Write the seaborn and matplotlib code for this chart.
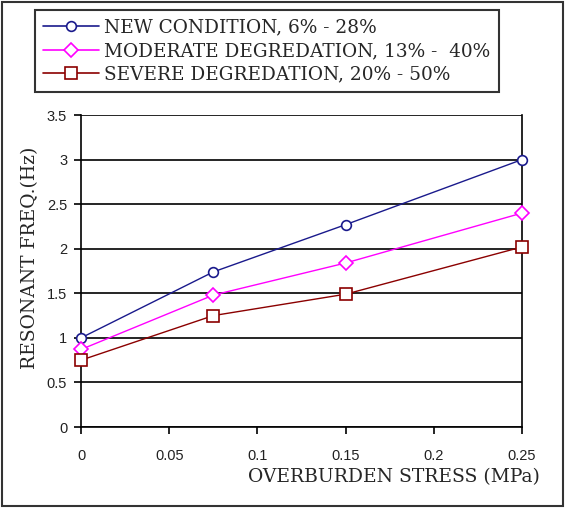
import matplotlib
matplotlib.use("Agg")
import matplotlib.pyplot as plt
from matplotlib.patches import Rectangle
from matplotlib.lines import Line2D
import seaborn as sns
import pandas as pd

# Overburden stress (MPa) and resonant frequency (Hz) per condition
stress = [0.0, 0.075, 0.15, 0.25]
new_condition = [1.00, 1.74, 2.27, 3.00]
moderate = [0.87, 1.48, 1.84, 2.40]
severe = [0.75, 1.25, 1.49, 2.02]
series_names = [
    "NEW CONDITION, 6% - 28%",
    "MODERATE DEGREDATION, 13% -  40%",
    "SEVERE DEGREDATION, 20% - 50%",
]
x_ticks = [0, 0.05, 0.1, 0.15, 0.2, 0.25]
x_tick_labels = ["0", "0.05", "0.1", "0.15", "0.2", "0.25"]
y_ticks = [0, 0.5, 1, 1.5, 2, 2.5, 3, 3.5]
y_tick_labels = ["0", "0.5", "1", "1.5", "2", "2.5", "3", "3.5"]

colors = ["#1a1a8c", "#ff00ff", "#8b0000"]
marker_kinds = ["o", "D", "s"]
marker_sizes = [7, 7.5, 8]
serif = ["DejaVu Serif", "Liberation Serif"]

df = pd.DataFrame({
    "stress": stress * 3,
    "freq": new_condition + moderate + severe,
    "series": [series_names[0]] * 4 + [series_names[1]] * 4 + [series_names[2]] * 4,
})

sns.set_style("white")
plt.rcParams["font.family"] = ["Liberation Sans", "DejaVu Sans"]

fig = plt.figure(figsize=(5.65, 5.08), dpi=100)
ax = fig.add_axes([0.1434, 0.1594, 0.7805, 0.6142])

sns.lineplot(
    data=df, x="stress", y="freq", hue="series", style="series",
    palette=dict(zip(series_names, colors)),
    markers=dict(zip(series_names, marker_kinds)),
    dashes=False, linewidth=1.0, ax=ax, legend=False,
)
for line, ms in zip(ax.get_lines(), marker_sizes):
    line.set_markerfacecolor("white")
    line.set_markeredgecolor(line.get_color())
    line.set_markeredgewidth(1.2)
    line.set_markersize(ms)
    line.set_zorder(3)
    line.set_clip_on(False)

ax.set_xlim(0, 0.25)
ax.set_ylim(0, 3.5)
ax.set_xticks(x_ticks)
ax.set_xticklabels(x_tick_labels)
ax.set_yticks(y_ticks)
ax.set_yticklabels(y_tick_labels)
ax.yaxis.grid(True, color="black", linewidth=1.2)
ax.xaxis.grid(False)
ax.set_axisbelow(True)
for side in ["left", "bottom", "right"]:
    ax.spines[side].set_visible(True)
    ax.spines[side].set_color("black")
    ax.spines[side].set_linewidth(1.2)
ax.spines["top"].set_visible(False)
ax.tick_params(axis="both", which="major", direction="out", length=5, width=1.2,
               colors="black", labelsize=10.5)
ax.tick_params(axis="x", pad=11, bottom=True)
ax.tick_params(axis="y", pad=5, left=True)
for lab in ax.get_xticklabels() + ax.get_yticklabels():
    lab.set_color("#222222")

ax.set_xlabel("")
ax.set_ylabel("")
fig.text(0.956, 0.044, "OVERBURDEN STRESS (MPa)", ha="right", va="bottom",
         fontsize=13.5, family=serif)
fig.text(0.053, 0.492, "RESONANT FREQ.(Hz)", ha="center", va="center", rotation=90,
         fontsize=13.5, family=serif)

# Legend in its own framed box above the plot
handles = [
    Line2D([0], [0], color=c, marker=m, markersize=ms, markerfacecolor="white",
           markeredgecolor=c, markeredgewidth=1.2, linewidth=1.2)
    for c, m, ms in zip(colors, marker_kinds, marker_sizes)
]
leg = fig.legend(
    handles, series_names, loc="upper left", bbox_to_anchor=(0.062, 0.98),
    frameon=True, fancybox=False, shadow=False, handlelength=3.0,
    handletextpad=0.3, labelspacing=0.3, borderpad=0.45, borderaxespad=0.0,
    prop={"family": serif, "size": 13.3},
)
leg.get_frame().set_edgecolor("black")
leg.get_frame().set_linewidth(1.5)
leg.get_frame().set_facecolor("white")

# Outer border of the figure
fig.patches.append(Rectangle((0.004, 0.004), 0.992, 0.992, transform=fig.transFigure,
                             fill=False, edgecolor="#333333", linewidth=1.5))

fig.savefig("out.png", dpi=100, facecolor="white")
